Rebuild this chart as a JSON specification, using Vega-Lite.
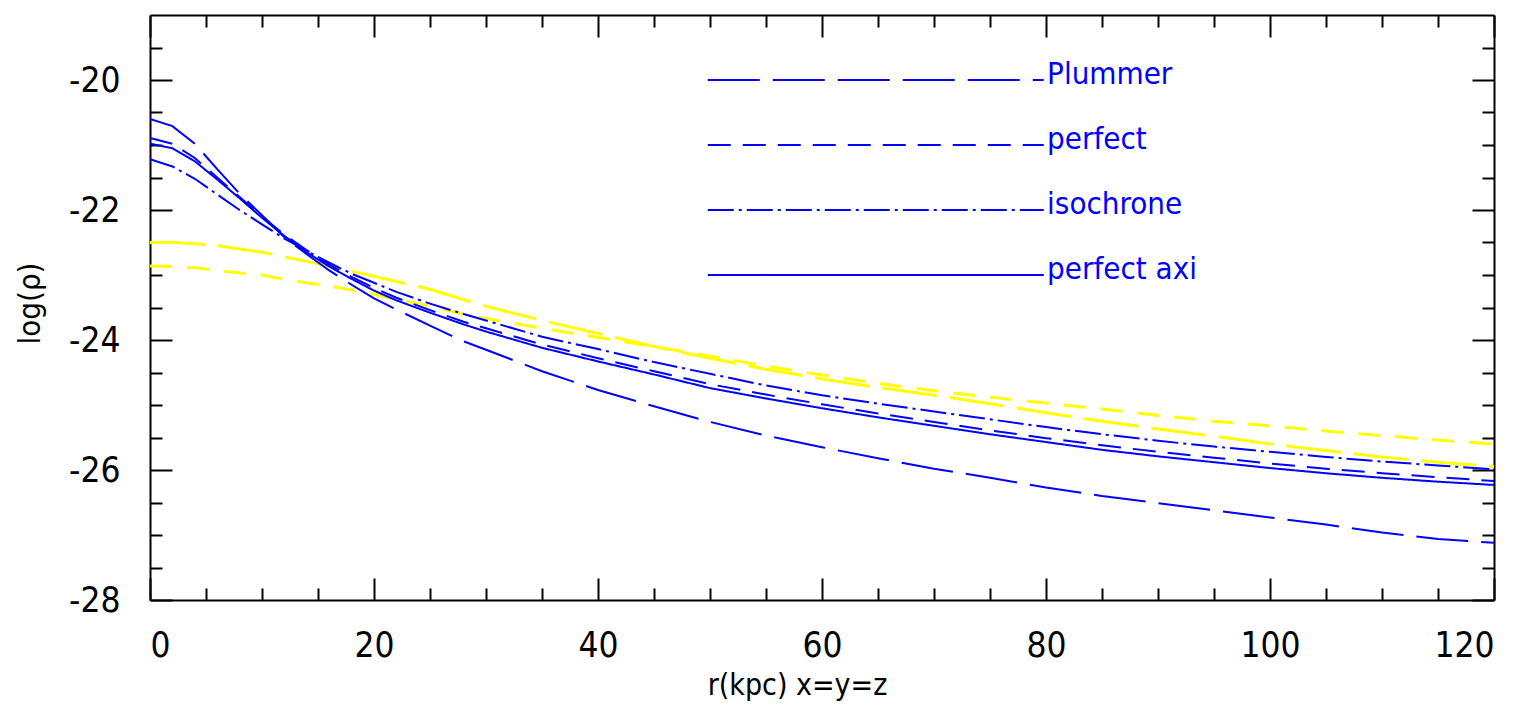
{
  "$schema": "https://vega.github.io/schema/vega-lite/v6.json",
  "width": 1344,
  "height": 585,
  "autosize": {"type": "none"},
  "padding": {"left": 150, "top": 15, "right": 33, "bottom": 121},
  "background": "white",
  "config": {"view": {"stroke": null}},
  "datasets": {
    "blue": [
      {"series":"Plummer","r":0,"v":-20.6},{"series":"Plummer","r":2,"v":-20.71},{"series":"Plummer","r":4,"v":-20.98},{"series":"Plummer","r":6,"v":-21.37},{"series":"Plummer","r":8,"v":-21.75},{"series":"Plummer","r":10,"v":-22.08},{"series":"Plummer","r":12,"v":-22.42},{"series":"Plummer","r":14,"v":-22.68},{"series":"Plummer","r":16,"v":-22.93},{"series":"Plummer","r":18,"v":-23.15},{"series":"Plummer","r":20,"v":-23.36},{"series":"Plummer","r":22,"v":-23.53},{"series":"Plummer","r":25,"v":-23.78},{"series":"Plummer","r":28,"v":-24.02},{"series":"Plummer","r":30,"v":-24.15},{"series":"Plummer","r":35,"v":-24.48},{"series":"Plummer","r":40,"v":-24.77},{"series":"Plummer","r":45,"v":-25.02},{"series":"Plummer","r":50,"v":-25.26},{"series":"Plummer","r":55,"v":-25.47},{"series":"Plummer","r":60,"v":-25.65},{"series":"Plummer","r":65,"v":-25.82},{"series":"Plummer","r":70,"v":-25.98},{"series":"Plummer","r":75,"v":-26.12},{"series":"Plummer","r":80,"v":-26.27},{"series":"Plummer","r":85,"v":-26.4},{"series":"Plummer","r":90,"v":-26.51},{"series":"Plummer","r":95,"v":-26.62},{"series":"Plummer","r":100,"v":-26.73},{"series":"Plummer","r":105,"v":-26.84},{"series":"Plummer","r":110,"v":-26.96},{"series":"Plummer","r":115,"v":-27.06},{"series":"Plummer","r":120,"v":-27.12},
      {"series":"perfect","r":0,"v":-20.89},{"series":"perfect","r":2,"v":-20.98},{"series":"perfect","r":4,"v":-21.2},{"series":"perfect","r":6,"v":-21.5},{"series":"perfect","r":8,"v":-21.8},{"series":"perfect","r":10,"v":-22.1},{"series":"perfect","r":12,"v":-22.38},{"series":"perfect","r":14,"v":-22.62},{"series":"perfect","r":16,"v":-22.84},{"series":"perfect","r":18,"v":-23.03},{"series":"perfect","r":20,"v":-23.2},{"series":"perfect","r":22,"v":-23.35},{"series":"perfect","r":25,"v":-23.54},{"series":"perfect","r":28,"v":-23.72},{"series":"perfect","r":30,"v":-23.82},{"series":"perfect","r":35,"v":-24.07},{"series":"perfect","r":40,"v":-24.28},{"series":"perfect","r":45,"v":-24.48},{"series":"perfect","r":50,"v":-24.68},{"series":"perfect","r":55,"v":-24.84},{"series":"perfect","r":60,"v":-24.99},{"series":"perfect","r":65,"v":-25.13},{"series":"perfect","r":70,"v":-25.26},{"series":"perfect","r":75,"v":-25.39},{"series":"perfect","r":80,"v":-25.51},{"series":"perfect","r":85,"v":-25.62},{"series":"perfect","r":90,"v":-25.72},{"series":"perfect","r":95,"v":-25.81},{"series":"perfect","r":100,"v":-25.9},{"series":"perfect","r":105,"v":-25.98},{"series":"perfect","r":110,"v":-26.05},{"series":"perfect","r":115,"v":-26.11},{"series":"perfect","r":120,"v":-26.17},
      {"series":"isochrone","r":0,"v":-21.22},{"series":"isochrone","r":2,"v":-21.33},{"series":"isochrone","r":4,"v":-21.52},{"series":"isochrone","r":6,"v":-21.76},{"series":"isochrone","r":8,"v":-22.0},{"series":"isochrone","r":10,"v":-22.22},{"series":"isochrone","r":12,"v":-22.44},{"series":"isochrone","r":14,"v":-22.63},{"series":"isochrone","r":16,"v":-22.81},{"series":"isochrone","r":18,"v":-22.98},{"series":"isochrone","r":20,"v":-23.12},{"series":"isochrone","r":22,"v":-23.26},{"series":"isochrone","r":25,"v":-23.44},{"series":"isochrone","r":28,"v":-23.6},{"series":"isochrone","r":30,"v":-23.7},{"series":"isochrone","r":35,"v":-23.95},{"series":"isochrone","r":40,"v":-24.14},{"series":"isochrone","r":45,"v":-24.34},{"series":"isochrone","r":50,"v":-24.52},{"series":"isochrone","r":55,"v":-24.7},{"series":"isochrone","r":60,"v":-24.85},{"series":"isochrone","r":65,"v":-24.98},{"series":"isochrone","r":70,"v":-25.1},{"series":"isochrone","r":75,"v":-25.22},{"series":"isochrone","r":80,"v":-25.34},{"series":"isochrone","r":85,"v":-25.45},{"series":"isochrone","r":90,"v":-25.55},{"series":"isochrone","r":95,"v":-25.64},{"series":"isochrone","r":100,"v":-25.72},{"series":"isochrone","r":105,"v":-25.8},{"series":"isochrone","r":110,"v":-25.87},{"series":"isochrone","r":115,"v":-25.93},{"series":"isochrone","r":120,"v":-25.99},
      {"series":"perfect axi","r":0,"v":-20.98},{"series":"perfect axi","r":2,"v":-21.05},{"series":"perfect axi","r":4,"v":-21.25},{"series":"perfect axi","r":6,"v":-21.53},{"series":"perfect axi","r":8,"v":-21.82},{"series":"perfect axi","r":10,"v":-22.12},{"series":"perfect axi","r":12,"v":-22.4},{"series":"perfect axi","r":14,"v":-22.65},{"series":"perfect axi","r":16,"v":-22.87},{"series":"perfect axi","r":18,"v":-23.06},{"series":"perfect axi","r":20,"v":-23.24},{"series":"perfect axi","r":22,"v":-23.39},{"series":"perfect axi","r":25,"v":-23.58},{"series":"perfect axi","r":28,"v":-23.76},{"series":"perfect axi","r":30,"v":-23.87},{"series":"perfect axi","r":35,"v":-24.12},{"series":"perfect axi","r":40,"v":-24.33},{"series":"perfect axi","r":45,"v":-24.53},{"series":"perfect axi","r":50,"v":-24.74},{"series":"perfect axi","r":55,"v":-24.9},{"series":"perfect axi","r":60,"v":-25.05},{"series":"perfect axi","r":65,"v":-25.19},{"series":"perfect axi","r":70,"v":-25.32},{"series":"perfect axi","r":75,"v":-25.45},{"series":"perfect axi","r":80,"v":-25.57},{"series":"perfect axi","r":85,"v":-25.69},{"series":"perfect axi","r":90,"v":-25.79},{"series":"perfect axi","r":95,"v":-25.88},{"series":"perfect axi","r":100,"v":-25.97},{"series":"perfect axi","r":105,"v":-26.05},{"series":"perfect axi","r":110,"v":-26.12},{"series":"perfect axi","r":115,"v":-26.18},{"series":"perfect axi","r":120,"v":-26.23}
    ],
    "yellow": [
      {"series":"A","r":0,"v":-22.5},{"series":"A","r":2,"v":-22.5},{"series":"A","r":4,"v":-22.52},{"series":"A","r":6,"v":-22.55},{"series":"A","r":8,"v":-22.6},{"series":"A","r":10,"v":-22.65},{"series":"A","r":12,"v":-22.72},{"series":"A","r":14,"v":-22.79},{"series":"A","r":16,"v":-22.86},{"series":"A","r":18,"v":-22.94},{"series":"A","r":20,"v":-23.02},{"series":"A","r":22,"v":-23.1},{"series":"A","r":25,"v":-23.22},{"series":"A","r":28,"v":-23.38},{"series":"A","r":30,"v":-23.48},{"series":"A","r":35,"v":-23.7},{"series":"A","r":40,"v":-23.9},{"series":"A","r":45,"v":-24.1},{"series":"A","r":50,"v":-24.28},{"series":"A","r":55,"v":-24.45},{"series":"A","r":60,"v":-24.6},{"series":"A","r":65,"v":-24.73},{"series":"A","r":70,"v":-24.85},{"series":"A","r":75,"v":-24.98},{"series":"A","r":80,"v":-25.12},{"series":"A","r":85,"v":-25.25},{"series":"A","r":90,"v":-25.37},{"series":"A","r":95,"v":-25.48},{"series":"A","r":100,"v":-25.6},{"series":"A","r":105,"v":-25.7},{"series":"A","r":110,"v":-25.8},{"series":"A","r":115,"v":-25.88},{"series":"A","r":120,"v":-25.95},
      {"series":"B","r":0,"v":-22.86},{"series":"B","r":2,"v":-22.87},{"series":"B","r":4,"v":-22.89},{"series":"B","r":6,"v":-22.93},{"series":"B","r":8,"v":-22.97},{"series":"B","r":10,"v":-23.0},{"series":"B","r":12,"v":-23.07},{"series":"B","r":14,"v":-23.12},{"series":"B","r":16,"v":-23.17},{"series":"B","r":18,"v":-23.23},{"series":"B","r":20,"v":-23.3},{"series":"B","r":22,"v":-23.37},{"series":"B","r":25,"v":-23.48},{"series":"B","r":28,"v":-23.6},{"series":"B","r":30,"v":-23.67},{"series":"B","r":35,"v":-23.82},{"series":"B","r":40,"v":-23.96},{"series":"B","r":45,"v":-24.1},{"series":"B","r":50,"v":-24.25},{"series":"B","r":55,"v":-24.4},{"series":"B","r":60,"v":-24.54},{"series":"B","r":65,"v":-24.67},{"series":"B","r":70,"v":-24.78},{"series":"B","r":75,"v":-24.88},{"series":"B","r":80,"v":-24.97},{"series":"B","r":85,"v":-25.06},{"series":"B","r":90,"v":-25.16},{"series":"B","r":95,"v":-25.25},{"series":"B","r":100,"v":-25.32},{"series":"B","r":105,"v":-25.4},{"series":"B","r":110,"v":-25.47},{"series":"B","r":115,"v":-25.54},{"series":"B","r":120,"v":-25.6}
    ],
    "legend": [
      {"series":"Plummer","r":49.8,"v":-20},{"series":"Plummer","r":79.8,"v":-20},
      {"series":"perfect","r":49.8,"v":-21},{"series":"perfect","r":79.8,"v":-21},
      {"series":"isochrone","r":49.8,"v":-22},{"series":"isochrone","r":79.8,"v":-22},
      {"series":"perfect axi","r":49.8,"v":-23},{"series":"perfect axi","r":79.8,"v":-23}
    ],
    "labels": [
      {"series":"Plummer","r":80.1,"v":-20},
      {"series":"perfect","r":80.1,"v":-21},
      {"series":"isochrone","r":80.1,"v":-22},
      {"series":"perfect axi","r":80.1,"v":-23}
    ]
  },
  "resolve": {"axis": {"x": "independent", "y": "independent"}},
  "layer": [
    {
      "data": {"name": "yellow"},
      "mark": {"type": "line", "color": "#ffff00", "strokeWidth": 3, "clip": true},
      "encoding": {
        "x": {"field": "r", "type": "quantitative", "scale": {"domain": [0, 120], "nice": false, "zero": false},
          "axis": {"orient": "top", "values": [0,5,10,15,20,25,30,35,40,45,50,55,60,65,70,75,80,85,90,95,100,105,110,115,120],
            "labels": false, "title": null, "grid": false, "domainColor": "black", "domainWidth": 2, "tickColor": "black", "tickWidth": 2,
            "tickSize": {"condition": {"test": "datum.value % 20 == 0", "value": -22}, "value": -12}}},
        "y": {"field": "v", "type": "quantitative", "scale": {"domain": [-28, -19], "nice": false, "zero": false},
          "axis": {"orient": "right", "values": [-28,-27.5,-27,-26.5,-26,-25.5,-25,-24.5,-24,-23.5,-23,-22.5,-22,-21.5,-21,-20.5,-20,-19.5],
            "labels": false, "title": null, "grid": false, "domainColor": "black", "domainWidth": 2, "tickColor": "black", "tickWidth": 2,
            "tickSize": {"condition": {"test": "datum.value % 2 == 0", "value": -22}, "value": -12}}},
        "detail": {"field": "series", "type": "nominal"},
        "strokeDash": {"field": "series", "type": "nominal", "scale": {"domain": ["Plummer", "perfect", "isochrone", "perfect axi", "A", "B"], "range": [[52, 13], [23, 12], [26, 5, 3, 5], [1, 0], [55, 13], [22, 15]]}, "legend": null}
      }
    },
    {
      "data": {"name": "blue"},
      "mark": {"type": "line", "color": "#0000ff", "strokeWidth": 2, "clip": true},
      "encoding": {
        "x": {"field": "r", "type": "quantitative",
          "axis": {"orient": "bottom", "values": [0,5,10,15,20,25,30,35,40,45,50,55,60,65,70,75,80,85,90,95,100,105,110,115,120],
            "labelExpr": "datum.value % 20 == 0 ? '' + datum.value : ''",
            "labelFont": "DejaVu Sans Condensed, Liberation Sans, sans-serif", "labelFontSize": 35, "labelColor": "black", "labelPadding": 50,
            "title": "r(kpc) x=y=z", "titleFont": "DejaVu Sans Condensed, Liberation Sans, sans-serif", "titleFontSize": 30, "titleFontWeight": "normal", "titleColor": "black",
            "titleX": 647, "titleY": 70,
            "grid": false, "domainColor": "black", "domainWidth": 2, "tickColor": "black", "tickWidth": 2,
            "tickSize": {"condition": {"test": "datum.value % 20 == 0", "value": -22}, "value": -12}}},
        "y": {"field": "v", "type": "quantitative",
          "axis": {"orient": "left", "values": [-28,-27.5,-27,-26.5,-26,-25.5,-25,-24.5,-24,-23.5,-23,-22.5,-22,-21.5,-21,-20.5,-20,-19.5],
            "labelExpr": "datum.value % 2 == 0 ? '' + datum.value : ''",
            "labelFont": "DejaVu Sans Condensed, Liberation Sans, sans-serif", "labelFontSize": 35, "labelColor": "black", "labelPadding": 52,
            "title": "log(ρ)", "titleFont": "DejaVu Sans Condensed, Liberation Sans, sans-serif", "titleFontSize": 31, "titleFontWeight": "normal", "titleColor": "black",
            "titleX": -104, "titleY": 288, "titleBaseline": "bottom",
            "grid": false, "domainColor": "black", "domainWidth": 2, "tickColor": "black", "tickWidth": 2,
            "tickSize": {"condition": {"test": "datum.value % 2 == 0", "value": -22}, "value": -12}}},
        "detail": {"field": "series", "type": "nominal"},
        "strokeDash": {"field": "series", "type": "nominal", "legend": null}
      }
    },
    {
      "data": {"name": "legend"},
      "mark": {"type": "line", "color": "#0000ff", "strokeWidth": 2},
      "encoding": {
        "x": {"field": "r", "type": "quantitative", "axis": null},
        "y": {"field": "v", "type": "quantitative", "axis": null},
        "detail": {"field": "series", "type": "nominal"},
        "strokeDash": {"field": "series", "type": "nominal", "legend": null}
      }
    },
    {
      "data": {"name": "labels"},
      "mark": {"type": "text", "color": "#0000ff", "align": "left", "baseline": "alphabetic", "dy": 4, "font": "DejaVu Sans Condensed, Liberation Sans, sans-serif", "fontSize": 31},
      "encoding": {
        "x": {"field": "r", "type": "quantitative", "axis": null},
        "y": {"field": "v", "type": "quantitative", "axis": null},
        "text": {"field": "series", "type": "nominal"}
      }
    }
  ]
}
